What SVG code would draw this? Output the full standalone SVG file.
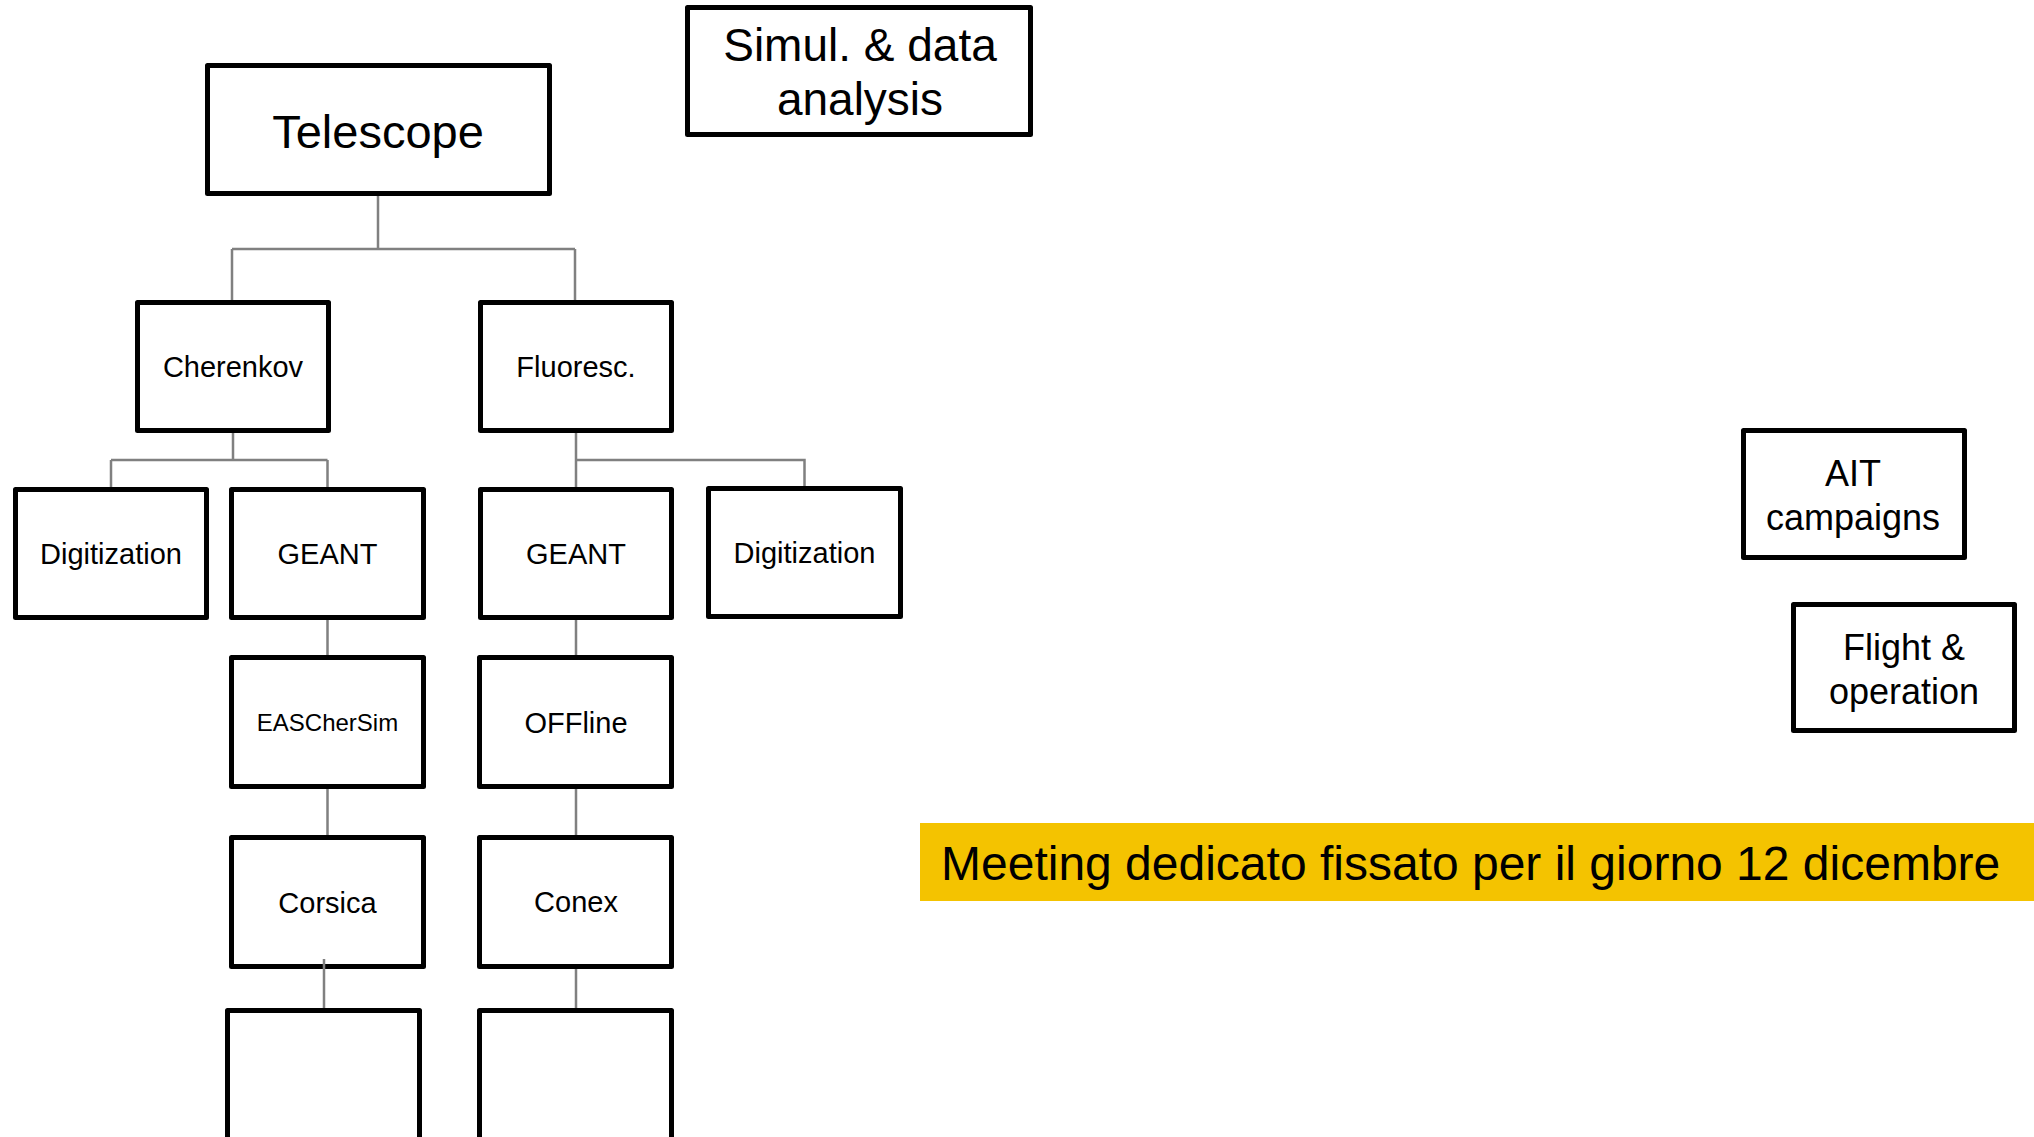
<svg xmlns="http://www.w3.org/2000/svg" width="2034" height="1137" viewBox="0 0 2034 1137">
<style>
.box{fill:#fff;stroke:#000;stroke-width:5;stroke-linejoin:round}
.lbl{font-family:"Liberation Sans",Arial,sans-serif;fill:#000;text-anchor:middle}
.s29{font-size:29px}
.conn path{fill:none;stroke:#808080;stroke-width:2.5}
</style>
<rect width="2034" height="1137" fill="#fff"/>
<g id="telescope"><rect class="box" x="207.5" y="65.5" width="342" height="128"/><text class="lbl" x="378" y="148" font-size="47">Telescope</text></g>
<g id="simul"><rect class="box" x="687.5" y="7.5" width="343" height="127"/><text class="lbl" x="860" y="61" font-size="46">Simul. &amp; data</text><text class="lbl" x="860" y="115" font-size="46">analysis</text></g>
<g id="cherenkov"><rect class="box" x="137.5" y="302.5" width="191" height="128"/><text class="lbl s29" x="233" y="377">Cherenkov</text></g>
<g id="fluoresc"><rect class="box" x="480.5" y="302.5" width="191" height="128"/><text class="lbl s29" x="576" y="377">Fluoresc.</text></g>
<g id="digitization-c"><rect class="box" x="15.5" y="489.5" width="191" height="128"/><text class="lbl s29" x="111" y="564">Digitization</text></g>
<g id="geant-c"><rect class="box" x="231.5" y="489.5" width="192" height="128"/><text class="lbl s29" x="327.5" y="564">GEANT</text></g>
<g id="geant-f"><rect class="box" x="480.5" y="489.5" width="191" height="128"/><text class="lbl s29" x="576" y="564">GEANT</text></g>
<g id="digitization-f"><rect class="box" x="708.5" y="488.5" width="192" height="128"/><text class="lbl s29" x="804.5" y="563">Digitization</text></g>
<g id="easchersim"><rect class="box" x="231.5" y="657.5" width="192" height="129"/><text class="lbl" x="327.5" y="731" font-size="24">EASCherSim</text></g>
<g id="offline"><rect class="box" x="479.5" y="657.5" width="192" height="129"/><text class="lbl s29" x="576" y="733">OFFline</text></g>
<g id="corsica"><rect class="box" x="231.5" y="837.5" width="192" height="129"/><text class="lbl s29" x="327.5" y="913">Corsica</text></g>
<g id="conex"><rect class="box" x="479.5" y="837.5" width="192" height="129"/><text class="lbl s29" x="576" y="912">Conex</text></g>
<g id="blank-c"><rect class="box" x="227.5" y="1010.5" width="192" height="200"/></g>
<g id="blank-f"><rect class="box" x="479.5" y="1010.5" width="192" height="200"/></g>
<g id="ait"><rect class="box" x="1743.5" y="430.5" width="221" height="127"/><text class="lbl" x="1853" y="486" font-size="36">AIT</text><text class="lbl" x="1853" y="530" font-size="36">campaigns</text></g>
<g id="flight"><rect class="box" x="1793.5" y="604.5" width="221" height="126"/><text class="lbl" x="1904" y="660" font-size="36">Flight &amp;</text><text class="lbl" x="1904" y="704" font-size="36">operation</text></g>
<g id="meeting"><rect x="920" y="823" width="1114" height="78" fill="#F4C300"/><text x="941" y="880" font-family="Liberation Sans,Arial,sans-serif" font-size="48" fill="#000">Meeting dedicato fissato per il giorno 12 dicembre</text></g>
<g id="connectors" class="conn">
<path d="M378 196V249M232 249H575M232 249V300M575 249V300"/>
<path d="M233 433V460M111 460H327.5M111 460V487M327.5 460V487"/>
<path d="M576 433V487M576 460H804.5V486"/>
<path d="M327.5 620V655M327.5 789V835M324 959V1008"/>
<path d="M576 620V655M576 789V835M576 969V1008"/>
</g>
</svg>
